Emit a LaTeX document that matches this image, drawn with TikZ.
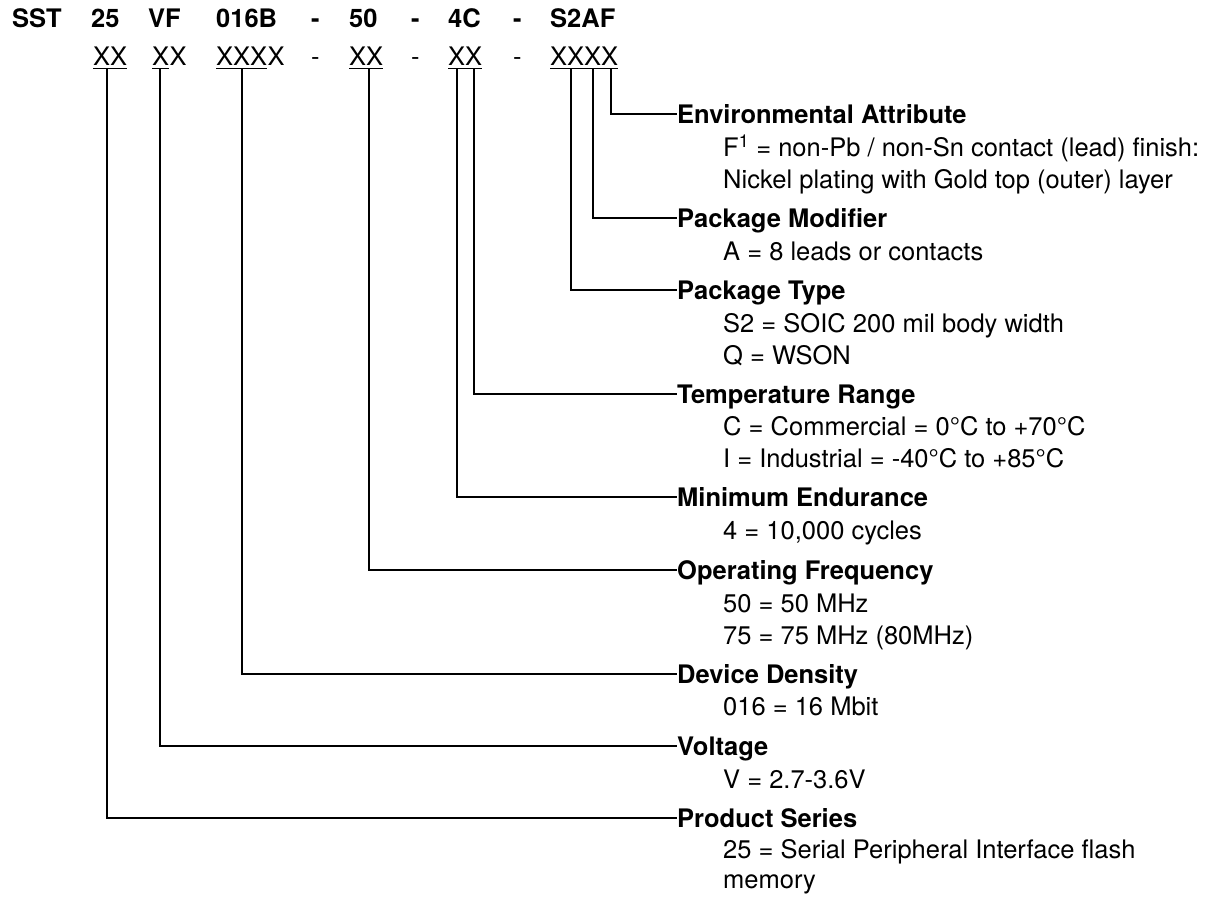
\documentclass[tikz,border=0pt]{standalone}
\usepackage{fontspec}
\setmainfont{TeX Gyre Heros}
\begin{document}
\begin{tikzpicture}[x=1pt,y=-1pt,
  every node/.style={inner sep=0pt, font=\fontsize{25.5}{30}\selectfont},
  code/.style={anchor=base west, font=\fontsize{25.5}{30}\selectfont\bfseries},
  pat/.style={anchor=base west},
  head/.style={anchor=west, text height=18.3pt, text depth=0pt, font=\fontsize{25.5}{30}\selectfont\bfseries},
  desc/.style={anchor=west, text height=18.3pt, text depth=0pt},
  conn/.style={line width=1.3pt, black},
  uline/.style={line width=1.3pt, black}]
\path[use as bounding box] (0,0) rectangle (1214,899);

% title row
\node[code] (t1) at (12,27.5) {SST};
\node[code] (t2) at (91,27.5) {25};
\node[code] (t3) at (148,27.5) {VF};
\node[code] (t4) at (216,27.5) {016B};
\node[code] (t5) at (311,27.5) {-};
\node[code] (t6) at (349,27.5) {50};
\node[code] (t7) at (411,27.5) {-};
\node[code] (t8) at (448,27.5) {4C};
\node[code] (t9) at (513,27.5) {-};
\node[code] (t10) at (550,27.5) {S2AF};

% pattern row
\node[pat] (p1) at (93,65.5) {XX};
\node[pat] (p2a) at (152,65.5) {X};
\node[pat] (p2b) at (p2a.base east) {X};
\node[pat] (p3a) at (216,65.5) {XXX};
\node[pat] (p3b) at (p3a.base east) {X};
\node[pat] (d1) at (311,65.5) {-};
\node[pat] (p4) at (349,65.5) {XX};
\node[pat] (d2) at (411,65.5) {-};
\node[pat] (p5) at (448,65.5) {XX};
\node[pat] (d3) at (513,65.5) {-};
\node[pat] (p6) at (550,65.5) {XXXX};

\foreach \n in {p1,p2a,p3a,p4,p5,p6}
  \draw[uline] ([yshift=-3pt]\n.base west) -- ([yshift=-3pt]\n.base east);

% connector start points (on the underlines)
\coordinate (c-ps) at (107,68.5);
\coordinate (c-v)  at (160,68.5);
\coordinate (c-dd) at (242,68.5);
\coordinate (c-of) at (369,68.5);
\coordinate (c-me) at (457,68.5);
\coordinate (c-tr) at (474,68.5);
\coordinate (c-pt) at (571,68.5);
\coordinate (c-pm) at (593,68.5);
\coordinate (c-ea) at (611,68.5);

% headings
\node[head] (ea) at (677,114) {Environmental Attribute};
\node[desc] (ea1) at (723,147) {F\textsuperscript{1} = non-Pb / non-Sn contact (lead) finish:};
\node[desc] (ea2) at (723,179) {Nickel plating with Gold top (outer) layer};

\node[head] (pm) at (677,218) {Package Modifier};
\node[desc] (pm1) at (723,251) {A = 8 leads or contacts};

\node[head] (pt) at (677,290) {Package Type};
\node[desc] (pt1) at (723,323) {S2 = SOIC 200 mil body width};
\node[desc] (pt2) at (723,355) {Q = WSON};

\node[head] (tr) at (677,394) {Temperature Range};
\node[desc] (tr1) at (723,426) {C = Commercial = 0°C to +70°C};
\node[desc] (tr2) at (723,458) {I = Industrial = -40°C to +85°C};

\node[head] (me) at (677,497) {Minimum Endurance};
\node[desc] (me1) at (723,530) {4 = 10,000 cycles};

\node[head] (of) at (677,570) {Operating Frequency};
\node[desc] (of1) at (723,603) {50 = 50 MHz};
\node[desc] (of2) at (723,635) {75 = 75 MHz (80MHz)};

\node[head] (dd) at (677,674) {Device Density};
\node[desc] (dd1) at (723,706) {016 = 16 Mbit};

\node[head] (v) at (677,746) {Voltage};
\node[desc] (v1) at (723,779) {V = 2.7-3.6V};

\node[head] (ps) at (677,818) {Product Series};
\node[desc] (ps1) at (723,849) {25 = Serial Peripheral Interface flash};
\node[desc] (ps2) at (723,879) {memory};

% connectors
\draw[conn] (c-ea) |- (ea.west);
\draw[conn] (c-pm) |- (pm.west);
\draw[conn] (c-pt) |- (pt.west);
\draw[conn] (c-tr) |- (tr.west);
\draw[conn] (c-me) |- (me.west);
\draw[conn] (c-of) |- (of.west);
\draw[conn] (c-dd) |- (dd.west);
\draw[conn] (c-v)  |- (v.west);
\draw[conn] (c-ps) |- (ps.west);
\end{tikzpicture}
\end{document}
